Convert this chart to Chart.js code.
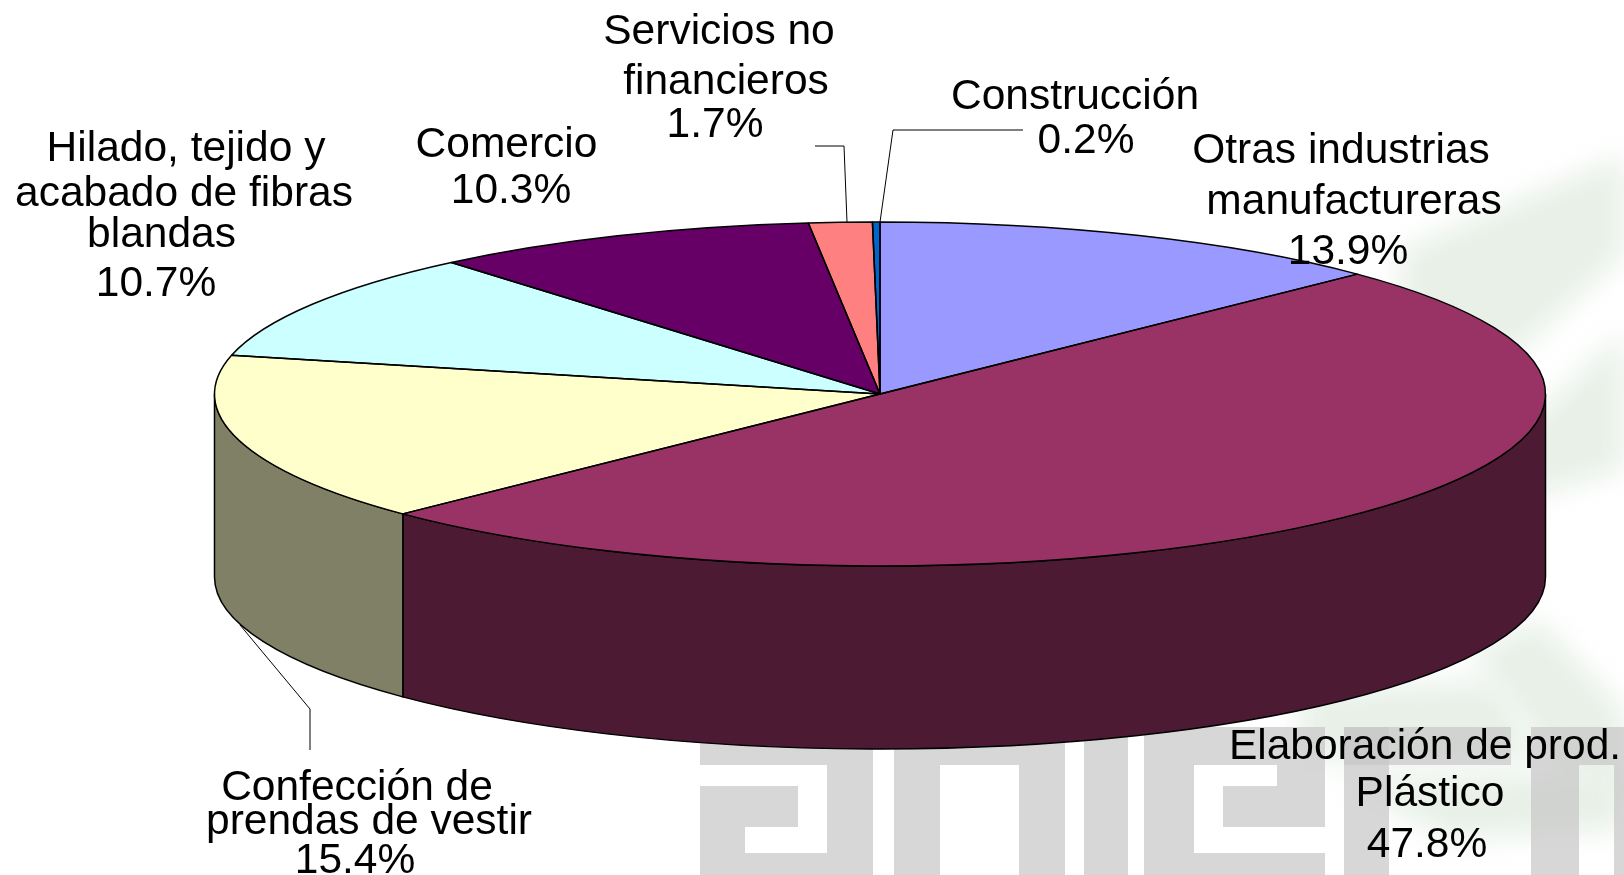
<!DOCTYPE html>
<html lang="es">
<head>
<meta charset="utf-8">
<title>Pastel 3D</title>
<style>html,body{margin:0;padding:0;background:#fff}canvas{display:block}</style>
<script src="https://cdn.jsdelivr.net/npm/chart.js@4"></script>
</head>
<body>
<canvas id="c" width="1624" height="875"></canvas>
<script>
const categories = ["Otras industrias manufactureras","Elaboración de prod. Plástico","Confección de prendas de vestir","Hilado, tejido y acabado de fibras blandas","Comercio","Servicios no financieros","Construcción"];
const shares = [13.9,47.8,15.4,10.7,10.3,1.7,0.2];
const faceColors = ["#9999FF","#993366","#FFFFCC","#CCFFFF","#660066","#FF8080","#0066CC"];
const wallColors = ["#4D4D80","#4D1A33","#808066","#668080","#330033","#804040","#003366"];

// vertical squash of the disc, its thickness, and the perspective foreshortening of the rim
const SQUASH = 172/665.5, DEPTH = 183, RADIUS = 665.5, WARP = 5.5*Math.PI/180;

const textLines = [
  ["Servicios no",719,44],["financieros",726,94],["1.7%",715,137],
  ["Construcción",1075,109],["0.2%",1086,153],
  ["Otras industrias",1341,163],["manufactureras",1354,214],["13.9%",1348,264],
  ["Comercio",506.5,157],["10.3%",511,203],
  ["Hilado, tejido y",186,161],["acabado de fibras",184,206],["blandas",161.5,247],["10.7%",156,296],
  ["Confección de",357,800],["prendas de vestir",369,834],["15.4%",355,873],
  ["Elaboración de prod.",1425,759],["Plástico",1430,806],["47.8%",1427,857]
];
const leaders = [
  [[815,146],[844,146],[847,222]],
  [[1023,130],[893,130],[880,222]],
  [[240,625],[310,709],[310,750]]
];
const greyBlocks = [[700,727,173,148],[894,727,171,148],[1084,727,44,148],[1144,727,181,148],[1344,727,167,38],[1344,727,45,148],[1531,727,48,148],[1614,727,10,148],[1579,727,35,38]];
const whiteNotches = [[700,765,127,21],[798,765,29,62],[745,827,82,26],[940,765,79,110],[1194,765,83,21],[1194,765,29,88],[1194,827,131,26]];
const haze = [
  [[1400,250],[1624,155],[1624,255],[1520,350],[1440,400],[1400,330]],
  [[1510,440],[1624,330],[1624,470],[1520,500]],
  [[1470,650],[1540,620],[1624,710],[1624,800],[1560,770]],
  [[1300,690],[1500,680],[1540,760],[1300,760]],
  [[1340,780],[1624,770],[1624,830],[1450,840]]
];

function warp(phi){ // phi: canvas angle, chart starts at -PI/2
  const t = phi + Math.PI/2;
  return phi - WARP*Math.sin(t);
}

const pie3d = {
  id:'pie3d',
  beforeDraw(chart){
    const ctx = chart.ctx;
    ctx.save();
    ctx.fillStyle = '#fff';
    ctx.fillRect(0,0,chart.width,chart.height);
    ctx.filter = 'blur(14px)';
    ctx.fillStyle = '#e8f0e8';
    haze.forEach(p=>{ctx.beginPath();p.forEach((q,i)=>i?ctx.lineTo(q[0],q[1]):ctx.moveTo(q[0],q[1]));ctx.closePath();ctx.fill();});
    ctx.filter = 'none';
    ctx.fillStyle = 'rgba(200,200,200,0.72)';
    greyBlocks.forEach(r=>ctx.fillRect(r[0],r[1],r[2],r[3]));
    ctx.fillStyle = '#fff';
    whiteNotches.forEach(r=>ctx.fillRect(r[0],r[1],r[2],r[3]));
    ctx.restore();
  },
  afterDatasetsUpdate(chart){
    chart.getDatasetMeta(0).data.forEach(a=>{
      const s = warp(a.startAngle), e = warp(a.endAngle);
      a.startAngle = s; a.endAngle = e; a.circumference = e-s;
    });
  },
  beforeDatasetsDraw(chart){
    const ctx = chart.ctx, arcs = chart.getDatasetMeta(0).data;
    const cx = arcs[0].x, cy = arcs[0].y;
    ctx.save();
    ctx.lineWidth = 1.5; ctx.strokeStyle = '#000'; ctx.lineJoin='round';
    arcs.forEach((a,i)=>{
      const s = Math.max(a.startAngle,0), e = Math.min(a.endAngle,Math.PI);
      if(e<=s) return;
      ctx.beginPath();
      ctx.ellipse(cx,cy,a.outerRadius,a.outerRadius*SQUASH,0,s,e);
      ctx.ellipse(cx,cy+DEPTH,a.outerRadius,a.outerRadius*SQUASH,0,e,s,true);
      ctx.closePath();
      ctx.fillStyle = wallColors[i];
      ctx.fill(); ctx.stroke();
    });
    ctx.restore();
    ctx.save();
    ctx.translate(cx,cy); ctx.scale(1,SQUASH); ctx.translate(-cx,-cy);
  },
  afterDatasetsDraw(chart){
    const ctx = chart.ctx, arcs = chart.getDatasetMeta(0).data;
    ctx.restore();
    const cx = arcs[0].x, cy = arcs[0].y;
    ctx.save();
    ctx.lineWidth = 1.5; ctx.strokeStyle='#000'; ctx.lineJoin='round';
    arcs.forEach(a=>{
      ctx.beginPath();
      ctx.moveTo(cx,cy);
      ctx.ellipse(cx,cy,a.outerRadius,a.outerRadius*SQUASH,0,a.startAngle,a.endAngle);
      ctx.closePath();
      ctx.stroke();
    });
    ctx.restore();
  },
  afterDraw(chart){
    const ctx = chart.ctx;
    ctx.save();
    ctx.strokeStyle='#000'; ctx.lineWidth=1;
    leaders.forEach(l=>{ctx.beginPath();l.forEach((q,i)=>i?ctx.lineTo(q[0],q[1]):ctx.moveTo(q[0],q[1]));ctx.stroke();});
    ctx.fillStyle='#000';
    ctx.font='42.5px "Liberation Sans"';
    ctx.textAlign='center'; ctx.textBaseline='alphabetic';
    textLines.forEach(t=>ctx.fillText(t[0],t[1],t[2]));
    ctx.restore();
  }
};

new Chart(document.getElementById('c'),{
  type:'pie',
  data:{labels:categories,datasets:[{data:shares,backgroundColor:faceColors,borderWidth:0,clip:false}]},
  options:{
    responsive:false,animation:false,
    radius:RADIUS,
    layout:{padding:{left:136,bottom:87,right:0,top:0}},
    plugins:{legend:{display:false},tooltip:{enabled:false}},
    events:[]
  },
  plugins:[pie3d]
});
</script>
</body>
</html>
